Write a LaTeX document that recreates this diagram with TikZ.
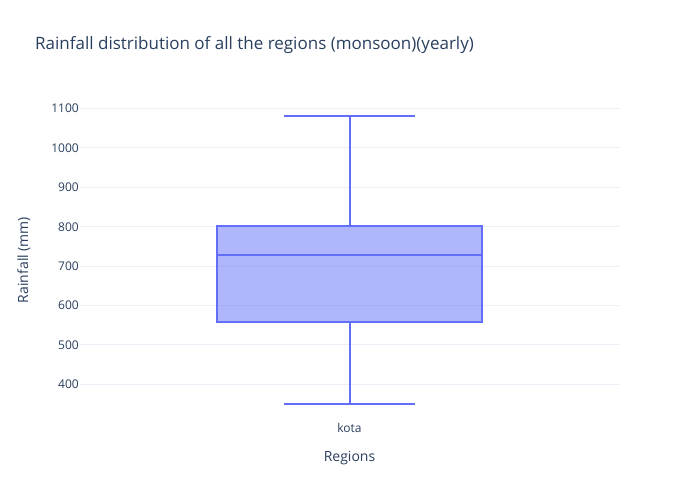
\documentclass[tikz,border=0pt]{standalone}
\usepackage{fontspec}
\setmainfont{Open Sans}
\definecolor{plotfont}{HTML}{2A3F5F}
\definecolor{gridc}{HTML}{EBF0F8}
\definecolor{boxc}{HTML}{636EFA}
\tikzset{
  gridline/.style={draw=gridc, line width=1pt},
  ticklabel/.style={font=\fontsize{12}{14}\selectfont, text=plotfont, inner sep=0pt, anchor=base east},
  axistitle/.style={font=\fontsize{14}{16}\selectfont, text=plotfont, inner sep=0pt},
  boxline/.style={draw=boxc, line width=2pt},
  boxfill/.style={fill=boxc, fill opacity=0.5}
}
\begin{document}
\begin{tikzpicture}[x=1pt,y=-1pt]
\useasboundingbox (0,0) rectangle (700,500);
\fill[white] (0,0) rectangle (700,500);
% grid and ticks
\foreach \v in {400,500,...,1100}{
  \pgfmathsetmacro{\yy}{108.6+(1100-\v)*0.3939}
  \draw[gridline] (80,\yy) -- (620,\yy);
  \node[ticklabel] (t\v) at (79,\yy+4.3) {\v};
}
% box values
\pgfmathsetmacro{\yuw}{108.6+(1100-1082)*0.3939}
\pgfmathsetmacro{\yqt}{108.6+(1100-802.5)*0.3939}
\pgfmathsetmacro{\ymed}{108.6+(1100-729)*0.3939}
\pgfmathsetmacro{\yqo}{108.6+(1100-557.5)*0.3939}
\pgfmathsetmacro{\ylw}{108.6+(1100-351)*0.3939}
\coordinate (ul) at (217,\yqt);
\coordinate (lr) at (482,\yqo);
\coordinate (topq) at (349.5,\yqt);
\coordinate (botq) at (349.5,\yqo);
\coordinate (uw) at (349.5,\yuw);
\coordinate (lw) at (349.5,\ylw);
\coordinate (uwl) at (284,\yuw);
\coordinate (uwr) at (415,\yuw);
\coordinate (lwl) at (284,\ylw);
\coordinate (lwr) at (415,\ylw);
\coordinate (medl) at (217,\ymed);
\coordinate (medr) at (482,\ymed);
\fill[boxfill] (ul) rectangle (lr);
\draw[boxline, line join=miter] (ul) rectangle (lr);
\draw[boxline] (medl) -- (medr);
\draw[boxline] (topq) -- (uw);
\draw[boxline] (botq) -- (lw);
\draw[boxline] (uwl) -- (uwr);
\draw[boxline] (lwl) -- (lwr);
% texts
\node[font=\fontsize{17}{20}\selectfont, text=plotfont, inner sep=0pt, anchor=base west] (title) at (35,49.5) {Rainfall distribution of all the regions (monsoon)(yearly)};
\node[ticklabel, anchor=base] (kota) at (349.5,432.7) {kota};
\node[axistitle, anchor=base] (xt) at (349.5,461.7) {Regions};
\node[axistitle, rotate=90, anchor=center] (yt) at (24,260) {Rainfall (mm)};
\end{tikzpicture}
\end{document}
